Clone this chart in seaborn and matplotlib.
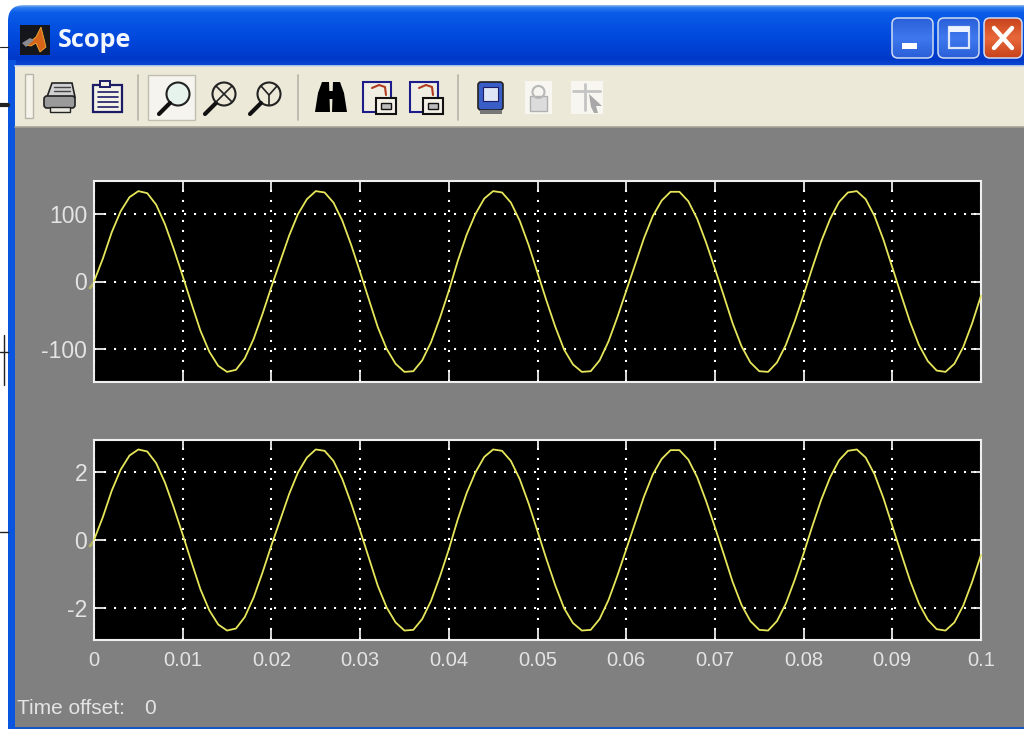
import numpy as np
import pandas as pd
import matplotlib
matplotlib.use("Agg")
import matplotlib.pyplot as plt
from matplotlib.patches import Rectangle, FancyBboxPatch, Circle, Polygon
from matplotlib.colors import LinearSegmentedColormap
import seaborn as sns

# ---------- data (every 0.001 s) ----------
time_s = [i / 1000 for i in range(101)]
voltage = [0, 34, 73, 104, 125, 134, 131, 114, 85, 48, 8, -33, -73, -104, -125, -134, -131, -114, -85, -48, -8,
           30, 68, 100, 122, 134, 132, 117, 90, 54, 14, -27, -68, -100, -122, -134, -133, -117, -90, -54, -14,
           30, 69, 100, 123, 134, 132, 117, 90, 54, 13, -28, -67, -101, -123, -134, -133, -117, -89, -53, -14,
           25, 64, 97, 120, 133, 133, 119, 93, 58, 19, -21, -62, -96, -120, -133, -134, -120, -94, -59, -20,
           21, 60, 93, 118, 132, 134, 122, 97, 62, 21, -20, -60, -94, -118, -132, -134, -122, -97, -62, -21]
current = [0, .68, 1.46, 2.08, 2.50, 2.68, 2.62, 2.28, 1.70, .96, .16, -.66, -1.46, -2.08, -2.50, -2.68, -2.62, -2.28, -1.70, -.96, -.16,
           .60, 1.36, 2.0, 2.44, 2.68, 2.64, 2.34, 1.80, 1.08, .28, -.54, -1.36, -2.0, -2.44, -2.68, -2.66, -2.34, -1.8, -1.08, -.28,
           .60, 1.38, 2.0, 2.46, 2.68, 2.64, 2.34, 1.8, 1.08, .26, -.56, -1.34, -2.02, -2.46, -2.68, -2.66, -2.34, -1.78, -1.06, -.28,
           .5, 1.28, 1.94, 2.4, 2.66, 2.66, 2.38, 1.86, 1.16, .38, -.42, -1.24, -1.92, -2.4, -2.66, -2.68, -2.4, -1.88, -1.18, -.4,
           .42, 1.2, 1.86, 2.36, 2.64, 2.68, 2.44, 1.94, 1.24, .42, -.4, -1.2, -1.88, -2.36, -2.64, -2.68, -2.44, -1.94, -1.24, -.44]
x_ticks = [0, 0.01, 0.02, 0.03, 0.04, 0.05, 0.06, 0.07, 0.08, 0.09, 0.1]
x_labels = ["0", "0.01", "0.02", "0.03", "0.04", "0.05", "0.06", "0.07", "0.08", "0.09", "0.1"]
top_ticks = [-100, 0, 100]
bottom_ticks = [-2, 0, 2]

W, H = 1024, 729
FONT = "Liberation Sans"
GREY = "#808080"
TXT = "#e4e4e4"
LINE = "#e6e65a"

sns.set_theme(style="dark")
plt.rcParams["font.family"] = [FONT, "DejaVu Sans"]
plt.rcParams["axes.unicode_minus"] = False
fig = plt.figure(figsize=(W / 100, H / 100), dpi=100, facecolor="white")


def axbox(l, t, r, b):
    return [l / W, 1 - b / H, (r - l) / W, (b - t) / H]


# ---------- window chrome, in pixel coordinates ----------
bg = fig.add_axes([0, 0, 1, 1], zorder=0)
bg.set_axis_off()
blue = LinearSegmentedColormap.from_list("title", [
    (0.00, "#8fb8e8"), (0.03, "#2f7cf0"), (0.12, "#0a5ce8"), (0.55, "#0048dc"),
    (0.90, "#0038c8"), (1.00, "#0a4ad0")])
grad = bg.imshow(np.linspace(0, 1, 80)[:, None], cmap=blue, aspect="auto",
                 extent=(8, W + 20, 66, 5), zorder=1)
clip = FancyBboxPatch((8, 5), W + 60, 200, boxstyle="round,pad=0,rounding_size=16",
                      transform=bg.transData, fc="none", ec="none")
bg.add_patch(clip)
grad.set_clip_path(clip)
bg.add_patch(Rectangle((8, 60), 8, H - 60, fc="#0a55e0", ec="none", zorder=1))
bg.add_patch(Rectangle((15, 66), W, 61, fc="#ece9d8", ec="none", zorder=1))
bg.add_patch(Rectangle((15, 127), W, H - 127, fc=GREY, ec="none", zorder=1))
bg.add_patch(Rectangle((15, 727), W, 3, fc="#1a55c8", ec="none", zorder=2))
bg.plot([15, W], [66, 66], color="#c9d6ee", lw=1.2, zorder=2)
bg.plot([15, W], [127, 127], color="#a6a498", lw=1.2, zorder=2)
for xa, ya, xb, yb, lw in [(0, 47, 8, 47, .8), (0, 105, 8, 105, 3), (4, 335, 4, 385, 1),
                           (0, 352, 8, 352, 1), (0, 532, 8, 532, 1)]:
    bg.plot([xa, xb], [ya, yb], color="#222222", lw=lw, zorder=2)
# small yellow smear left of where each trace starts
bg.plot([90, 94], [288, 283], color="#c8c850", lw=2, alpha=.7, zorder=2)
bg.plot([90, 94], [546, 541], color="#c8c850", lw=2, alpha=.7, zorder=2)

# application icon and title
bg.add_patch(Rectangle((20, 25), 30, 30, fc="#15151c", ec="none", zorder=3))
bg.add_patch(Polygon([(26, 45), (36, 37), (41, 27), (46, 47), (40, 52), (36, 43), (31, 46)],
                     fc="#d8641a", ec="#f4b030", lw=.6, zorder=4))
bg.add_patch(Polygon([(22, 43), (30, 38), (34, 40), (26, 47)], fc="#8a8a90", ec="none", zorder=4))
bg.text(58, 40, "Scope", color="#f2f6ff", fontsize=18.2, fontweight="bold", family="Open Sans",
        va="center", ha="left", zorder=4)


def button(x0, x1, c0, c1):
    g = bg.imshow(np.linspace(0, 1, 40)[:, None],
                  cmap=LinearSegmentedColormap.from_list("b", [c0, c1, c0]), aspect="auto",
                  extent=(x0, x1, 58, 18), zorder=3)
    p = FancyBboxPatch((x0, 18), x1 - x0, 40, boxstyle="round,pad=0,rounding_size=6",
                       fc="none", ec="#cfdcf2", lw=1.1, zorder=4)
    bg.add_patch(p)
    g.set_clip_path(p)


button(892, 933, "#2a5fd8", "#3f78ee")
button(938, 979, "#2a5fd8", "#3f78ee")
button(984, 1022, "#c8431c", "#e8683a")
bg.add_patch(Rectangle((902, 43), 15, 6, fc="white", ec="none", zorder=5))
bg.add_patch(Rectangle((949, 27), 20, 21, fc="none", ec="#dce8fa", lw=1.6, zorder=5))
bg.add_patch(Rectangle((949, 27), 20, 5, fc="#eef4ff", ec="none", zorder=5))
bg.plot([994, 1012], [28, 48], color="white", lw=3.2, zorder=5)
bg.plot([1012, 994], [28, 48], color="white", lw=3.2, zorder=5)

# toolbar
bg.add_patch(Rectangle((25, 74), 8, 44, fc="#f6f4ea", ec="#b8b6a8", lw=1, zorder=3))
for sx in (138, 298, 458):
    bg.plot([sx, sx], [75, 120], color="#b5b3a6", lw=1.2, zorder=3)
bg.add_patch(Rectangle((148, 75), 47, 45, fc="#f5f4ee", ec="#c0beb0", lw=1, zorder=3))
# printer
bg.add_patch(Polygon([(52, 83), (72, 83), (75, 97), (47, 97)], fc="#d0d0d0", ec="#222", lw=1.2, zorder=4))
for yy in (87, 91):
    bg.plot([54, 70], [yy, yy], color="#444", lw=1, zorder=5)
bg.add_patch(FancyBboxPatch((44, 96), 31, 12, boxstyle="round,pad=0,rounding_size=3", fc="#9a9a9a", ec="#222", lw=1.2, zorder=4))
bg.add_patch(Rectangle((50, 107), 20, 5, fc="#e8e8e0", ec="#222", lw=1, zorder=4))
# clipboard
bg.add_patch(Rectangle((93, 85), 29, 27, fc="#f4f2e6", ec="#1c1c66", lw=1.6, zorder=4))
bg.add_patch(Rectangle((100, 81), 10, 6, fc="#f4f2e6", ec="#1c1c66", lw=1.4, zorder=5))
for yy in (92, 97, 102, 107):
    bg.plot([98, 118], [yy, yy], color="#1c1c66", lw=1.2, zorder=5)
# magnifiers
for cx, mark in ((178, None), (224, "x"), (269, "y")):
    bg.add_patch(Circle((cx, 94), 11.5, fc="#e6f2ec" if mark is None else "#ece9d8", ec="#222", lw=1.5, zorder=4))
    bg.plot([cx - 8, cx - 19], [103, 114], color="#111", lw=3, zorder=5, solid_capstyle="round")
    if mark == "x":
        bg.plot([cx - 8, cx + 8], [86, 102], color="#222", lw=1.2, zorder=5)
        bg.plot([cx + 8, cx - 8], [86, 102], color="#222", lw=1.2, zorder=5)
    if mark == "y":
        bg.plot([cx - 8, cx, cx + 8], [86, 95, 86], color="#222", lw=1.2, zorder=5)
        bg.plot([cx, cx], [95, 105], color="#222", lw=1.2, zorder=5)
# binoculars
bg.add_patch(Polygon([(315, 112), (318, 93), (322, 82), (329, 82), (330, 112)], fc="black", ec="none", zorder=4))
bg.add_patch(Polygon([(347, 112), (344, 93), (340, 82), (333, 82), (332, 112)], fc="black", ec="none", zorder=4))
bg.add_patch(Rectangle((326, 91), 10, 8, fc="black", ec="none", zorder=4))
# restore / save layout icons
for ix, col in ((363, "#b03a20"), (410, "#b03a20")):
    bg.add_patch(Rectangle((ix, 82), 28, 30, fc="#f0eee2", ec="#1c1c8a", lw=1.5, zorder=4))
    bg.add_patch(Rectangle((ix + 13, 98), 20, 16, fc="#f4f2e8", ec="#111", lw=1.5, zorder=5))
    bg.add_patch(Rectangle((ix + 18, 103), 10, 6, fc="#bbb", ec="#111", lw=1, zorder=6))
    bg.plot([ix + 9, ix + 16, ix + 22, ix + 23], [88, 85, 87, 95], color=col, lw=1.5, zorder=6)
# scope chip, lock and cursor
bg.add_patch(FancyBboxPatch((478, 82), 25, 28, boxstyle="round,pad=0,rounding_size=3", fc="#3a5ec8", ec="#222", lw=1.2, zorder=4))
bg.add_patch(Rectangle((483, 87), 15, 14, fc="#dfe6f6", ec="#1c1c66", lw=.8, zorder=5))
bg.add_patch(Rectangle((480, 110), 22, 4, fc="#777", ec="none", zorder=5))
bg.add_patch(Rectangle((525, 81), 27, 33, fc="#f7f6f0", ec="none", zorder=4))
bg.add_patch(Rectangle((530, 96), 17, 15, fc="#dcdcdc", ec="#b0b0b0", lw=1, zorder=5))
bg.add_patch(Circle((538.5, 92), 6, fc="none", ec="#b8b8b8", lw=1.5, zorder=5))
bg.add_patch(Rectangle((571, 81), 32, 33, fc="#f7f6f0", ec="none", zorder=4))
bg.plot([573, 600], [91, 91], color="#c4c4c4", lw=2, zorder=5)
bg.plot([585, 585], [84, 110], color="#c4c4c4", lw=2, zorder=5)
bg.add_patch(Polygon([(589, 94), (602, 106), (596, 106), (598, 113), (594, 113), (591, 107)], fc="#a8a8a8", ec="none", zorder=6))

bg.text(17, 708, "Time offset:", color=TXT, fontsize=15, va="center", ha="left", zorder=4)
bg.text(144, 708, "0", color=TXT, fontsize=15, va="center", ha="left", zorder=4)
bg.set_xlim(0, W)
bg.set_ylim(H, 0)


# ---------- the two scope panels ----------
def panel(box, values, ylim, yticks, show_x):
    ax = fig.add_axes(axbox(*box), zorder=2, facecolor="black")
    frame = pd.DataFrame({"t": time_s, "y": values})
    sns.lineplot(data=frame, x="t", y="y", ax=ax, color=LINE, lw=1.3, errorbar=None, clip_on=False, zorder=3)
    ax.set_xlim(0, 0.1)
    ax.set_ylim(*ylim)
    ax.set_xticks(x_ticks)
    ax.set_yticks(yticks)
    ax.set_xticklabels(x_labels if show_x else [])
    ax.set_xlabel("")
    ax.set_ylabel("")
    ax.grid(True, color="white", lw=1.5, ls=(0, (1, 3.8)))
    ax.set_axisbelow(True)
    ax.tick_params(axis="both", which="major", direction="in", length=7, width=1.2, color="white",
                   labelcolor=TXT, top=True, right=True, bottom=True, left=True)
    ax.tick_params(axis="x", labelsize=14.5, pad=8)
    ax.tick_params(axis="y", labelsize=16.5, pad=5)
    for s in ax.spines.values():
        s.set_visible(True)
        s.set_color("#f0f0f0")
        s.set_linewidth(1.5)
    return ax


panel((94, 181, 981, 382), voltage, (-149, 149), top_ticks, False)
panel((94, 440, 981, 640), current, (-2.96, 2.96), bottom_ticks, True)

fig.savefig("out.png", dpi=100, facecolor="white")
